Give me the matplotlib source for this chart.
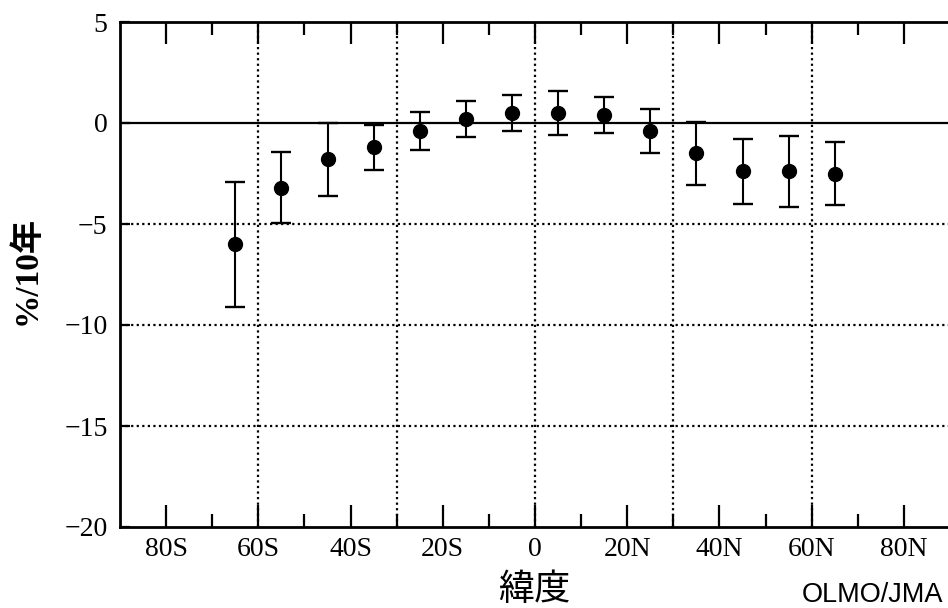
import numpy as np
import matplotlib
matplotlib.use("Agg")
import matplotlib.pyplot as plt

# zonal ozone trend data (%/10yr)
lat = [-65, -55, -45, -35, -25, -15, -5, 5, 15, 25, 35, 45, 55, 65]
trend = [-6.0, -3.2, -1.8, -1.2, -0.4, 0.2, 0.5, 0.5, 0.4, -0.4, -1.5, -2.4, -2.4, -2.5]
err_lo = [3.1, 1.75, 1.8, 1.15, 0.95, 0.9, 0.9, 1.1, 0.9, 1.1, 1.55, 1.6, 1.75, 1.55]
err_hi = [3.1, 1.75, 1.8, 1.1, 0.95, 0.9, 0.9, 1.1, 0.9, 1.1, 1.55, 1.6, 1.75, 1.55]

xtick_pos = [-80, -60, -40, -20, 0, 20, 40, 60, 80]
xtick_lab = ["80S", "60S", "40S", "20S", "0", "20N", "40N", "60N", "80N"]
ytick_pos = [-20, -15, -10, -5, 0, 5]
ytick_lab = ["\u221220", "\u221215", "\u221210", "\u22125", "0", "5"]
vgrid = [-60, -30, 0, 30, 60]
hgrid = [-15, -10, -5]

serif = ["Liberation Serif", "Noto Sans CJK JP"]
plt.rcParams['font.family'] = serif

fig = plt.figure(figsize=(9.48, 6.08), dpi=100)
ax = fig.add_axes([120/948, 81/608, 830/948, 505/608])

# grid lines
for v in vgrid:
    ax.axvline(v, color="black", lw=1.6, ls=(0, (1, 1.5)), zorder=1)
for h in hgrid:
    ax.axhline(h, color="black", lw=1.6, ls=(0, (1, 1.5)), zorder=1)
ax.axhline(0, color="black", lw=1.6, zorder=1)

ax.errorbar(lat, trend, yerr=[err_lo, err_hi], fmt="o", color="black",
            ms=10, elinewidth=1.5, capsize=7, capthick=1.7, zorder=3)

ax.set_xlim(-90, 90)
ax.set_ylim(-20, 5)

ax.set_xticks(xtick_pos)
ax.set_xticklabels(xtick_lab)
ax.set_xticks(np.arange(-70, 71, 20), minor=True)
ax.set_yticks(ytick_pos)
ax.set_yticklabels(ytick_lab)

ax.tick_params(axis="x", which="major", direction="in", length=16, width=1.6,
               top=True, bottom=True, pad=7, labelsize=20)
ax.tick_params(axis="x", which="minor", direction="in", length=9.5, width=1.6,
               top=True, bottom=True)
ax.tick_params(axis="y", which="major", direction="in", length=7, width=1.6,
               left=True, right=False, pad=9, labelsize=20)

for s in ax.spines.values():
    s.set_linewidth(2)
ax.spines["right"].set_visible(False)

fig.text(27/948, 1 - 270/608, "%/10年", rotation=90, ha="center", va="center",
         fontsize=24, fontweight="bold", fontfamily=serif)
fig.text(534/948, 1 - 590/608, "緯度", ha="center", va="center",
         fontsize=26, fontfamily=["Noto Sans CJK JP", "DejaVu Sans"])
fig.text(943/948, 6/608, "OLMO/JMA", ha="right", va="baseline",
         fontsize=19.5, fontfamily="Liberation Sans")

fig.savefig("out.png", dpi=100)
